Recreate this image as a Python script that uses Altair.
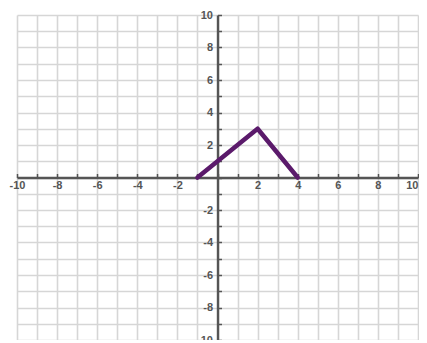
import altair as alt
import pandas as pd

# Data
line_x = [-1, 2, 4]
line_y = [0, 3, 0]
tick_values = [-10, -9, -8, -7, -6, -5, -4, -3, -2, -1, 0, 1, 2, 3, 4, 5, 6, 7, 8, 9, 10]
domain = [-10, 10]

df = pd.DataFrame({"x": line_x, "y": line_y})

W, H = 401, 325
label_expr = "(datum.value % 2 == 0 && datum.value != 0) ? ('' + datum.value) : ''"

xs = alt.Scale(domain=domain, nice=False, zero=False)
ys = alt.Scale(domain=domain, nice=False, zero=False)

grid_layer = alt.Chart(df).mark_point(opacity=0).encode(
    x=alt.X("x:Q", scale=xs, axis=alt.Axis(
        values=tick_values, grid=True, domain=False, ticks=False, labels=False,
        title=None, gridColor="#d6d6d6", gridWidth=1.6, orient="bottom")),
    y=alt.Y("y:Q", scale=ys, axis=alt.Axis(
        values=tick_values, grid=True, domain=False, ticks=False, labels=False,
        title=None, gridColor="#d6d6d6", gridWidth=1.6, orient="left")),
)

axis_common = dict(
    values=tick_values, grid=False, title=None,
    domainColor="#555555", domainWidth=2.4,
    tickColor="#555555", tickWidth=1.5, tickSize=4,
    labelExpr=label_expr, labelFont="Liberation Sans", labelFontSize=11,
    labelFontWeight="bold", labelColor="#555555",
    labelFlush=False, labelOverlap=False, labelBound=False,
)

line_layer = alt.Chart(df).mark_line(color="#5b1a6b", strokeWidth=4.5, strokeCap="round", strokeJoin="round").encode(
    x=alt.X("x:Q", scale=xs, axis=alt.Axis(
        orient="top", offset=-(H / 2), labelBaseline="top", labelPadding=-6,
        labelAlign={"condition": {"test": "datum.value >= 10", "value": "right"}, "value": "center"},
        **axis_common)),
    y=alt.Y("y:Q", scale=ys, axis=alt.Axis(
        orient="right", offset=-(W / 2), labelAlign="right", labelPadding=-9,
        labelBaseline="middle", **axis_common)),
)

chart = alt.layer(grid_layer, line_layer).resolve_axis(
    x="independent", y="independent"
).properties(
    width=W, height=H,
    autosize=alt.AutoSizeParams(type="none"),
    padding={"left": 9, "top": 7, "right": 1, "bottom": 0},
    background="white",
).configure_view(stroke=None)

chart.save("out.html", embed_options={"renderer": "svg", "actions": False})
